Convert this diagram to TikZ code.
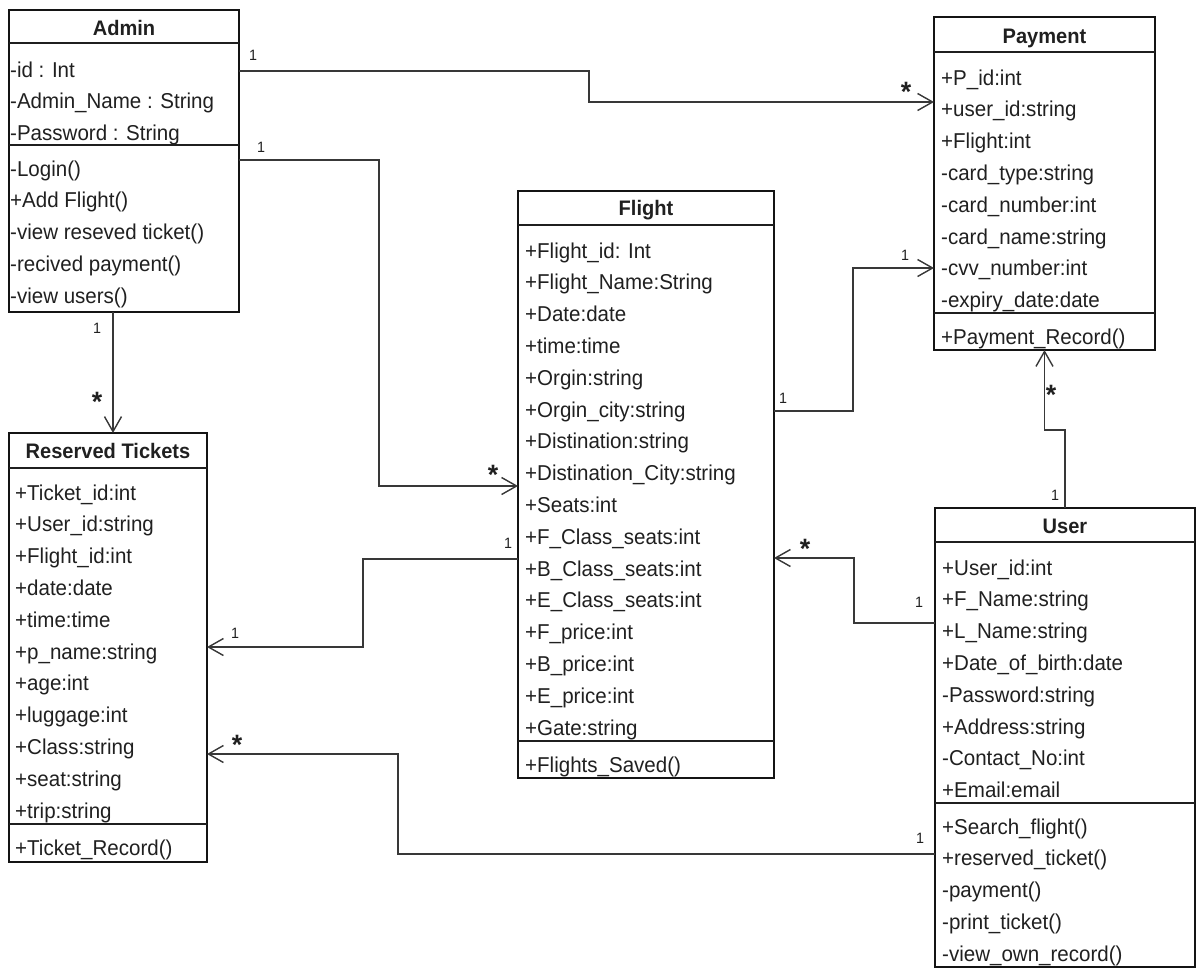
\documentclass[tikz,border=0pt]{standalone}
\usepackage{fontspec}
\setmainfont[FakeStretch=0.955]{Liberation Sans}
\usetikzlibrary{arrows.meta}
\definecolor{ink}{HTML}{202020}
\definecolor{wire}{HTML}{383838}

% frame of a class: name, x1, y1, x2, y2, title, title baseline, first and second rule
\newcommand\classframe[9]{%
  \node[classbox, minimum width={#4-#2}, minimum height={#5-#3}] (#1) at ({(#2+#4)/2},{(#3+#5)/2}) {};
  \node[titletext] (#1-title) at ({(#2+#4)/2},#7) {#6};
  \draw[seprule] (#2,#8) -- (#4,#8);
  \draw[seprule] (#2,#9) -- (#4,#9);
}
% one compartment of text lines: prefix, left x, first baseline, lines
\newcommand\classrows[4]{%
  \foreach \clsline [count=\k from 0] in {#4}
    \node[rowtext] (#1-\k) at (#2,{#3+\k*31.8}) {\clsline};
}

\begin{document}
\begin{tikzpicture}[x=1pt,y=-1pt,
  classbox/.style={draw=black!92, line width=2.4pt, inner sep=0pt, outer sep=0pt, fill=white},
  seprule/.style={draw=black!88, line width=2pt},
  titletext/.style={font=\bfseries\fontsize{21}{24}\selectfont, text=ink, anchor=base, inner sep=0pt},
  rowtext/.style={font=\fontsize{21.5}{24}\selectfont, text=ink, anchor=base west, inner sep=0pt},
  assoc/.style={draw=wire, line width=1.6pt,
    -{Straight Barb[length=15pt,width=17pt,line width=1.4pt]}},
  multone/.style={font=\fontsize{15}{15}\selectfont, text=ink, anchor=base, inner sep=0pt},
  multmany/.style={font=\bfseries\fontsize{28}{28}\selectfont, text=ink, anchor=base, inner sep=0pt}]

\useasboundingbox[fill=white] (0,0) rectangle (1202,970);

% ---------- classes ----------
\classframe{admin}{9}{10}{239}{312}{Admin}{35}{43}{145}
\classrows{admin-a}{10}{77}{-id : Int, -Admin\_Name : String, -Password : String}
\classrows{admin-m}{10}{176}{-Login(), +Add Flight(), -view reseved ticket(), -recived payment(), -view users()}

\classframe{payment}{934}{17}{1155}{350}{Payment}{43}{52}{313}
\classrows{payment-a}{941}{85}{+P\_id:int, +user\_id:string, +Flight:int, -card\_type:string,
  -card\_number:int, -card\_name:string, -cvv\_number:int, -expiry\_date:date}
\classrows{payment-m}{941}{344}{+Payment\_Record()}

\classframe{flight}{518}{191}{774}{778}{Flight}{215}{225}{741}
\classrows{flight-a}{525}{258}{+Flight\_id: Int, +Flight\_Name:String, +Date:date, +time:time,
  +Orgin:string, +Orgin\_city:string, +Distination:string, +Distination\_City:string,
  +Seats:int, +F\_Class\_seats:int, +B\_Class\_seats:int, +E\_Class\_seats:int,
  +F\_price:int, +B\_price:int, +E\_price:int, +Gate:string}
\classrows{flight-m}{525}{772}{+Flights\_Saved()}

\classframe{tickets}{9}{433}{207}{862}{Reserved Tickets}{458}{468}{824}
\classrows{tickets-a}{15}{500}{+Ticket\_id:int, +User\_id:string, +Flight\_id:int, +date:date,
  +time:time, +p\_name:string, +age:int, +luggage:int, +Class:string, +seat:string, +trip:string}
\classrows{tickets-m}{15}{855}{+Ticket\_Record()}

\classframe{user}{935}{508}{1195}{967}{User}{533}{542}{803}
\classrows{user-a}{942}{575}{+User\_id:int, +F\_Name:string, +L\_Name:string, +Date\_of\_birth:date,
  -Password:string, +Address:string, -Contact\_No:int, +Email:email}
\classrows{user-m}{942}{834}{+Search\_flight(), +reserved\_ticket(), -payment(), -print\_ticket(), -view\_own\_record()}

% ---------- associations ----------
\draw[assoc] ([yshift=-61pt]admin.north east) -- ++(350,0) |- ([yshift=-85pt]payment.north west);
\draw[assoc] ([yshift=-150pt]admin.north east) -- ++(140,0) |- ([yshift=-295pt]flight.north west);
\draw[assoc] ([xshift=-11pt]admin.south) -- ([xshift=-11pt]admin.south |- tickets.north);
\draw[assoc] ([yshift=-220pt]flight.north east) -- ++(79,0) |- ([yshift=-251pt]payment.north west);
\draw[assoc] (user.north) -- ++(0,-78) -| (payment.south);
\draw[assoc] ([yshift=-115pt]user.north west) -- ++(-81,0) |- ([yshift=-367pt]flight.north east);
\draw[assoc] ([yshift=-368pt]flight.north west) -- ++(-155,0) |- ([yshift=-214pt]tickets.north east);
\draw[assoc] ([yshift=-346pt]user.north west) -- ++(-537,0) |- ([yshift=-321pt]tickets.north east);

% ---------- multiplicities ----------
\node[multone] (m1) at (253,60.5) {1};
\node[multmany] (m2) at (906,101) {*};
\node[multone] (m3) at (261,152.5) {1};
\node[multmany] (m4) at (493,484) {*};
\node[multone] (m5) at (97,333.5) {1};
\node[multmany] (m6) at (97,411) {*};
\node[multone] (m7) at (783,403.5) {1};
\node[multone] (m8) at (905,260.5) {1};
\node[multone] (m9) at (1055,500) {1};
\node[multmany] (m10) at (1051,404) {*};
\node[multone] (m11) at (919,607.5) {1};
\node[multmany] (m12) at (805,558) {*};
\node[multone] (m13) at (508,548.5) {1};
\node[multone] (m14) at (235,638.5) {1};
\node[multone] (m15) at (920,843.5) {1};
\node[multmany] (m16) at (237,754) {*};
\end{tikzpicture}
\end{document}
